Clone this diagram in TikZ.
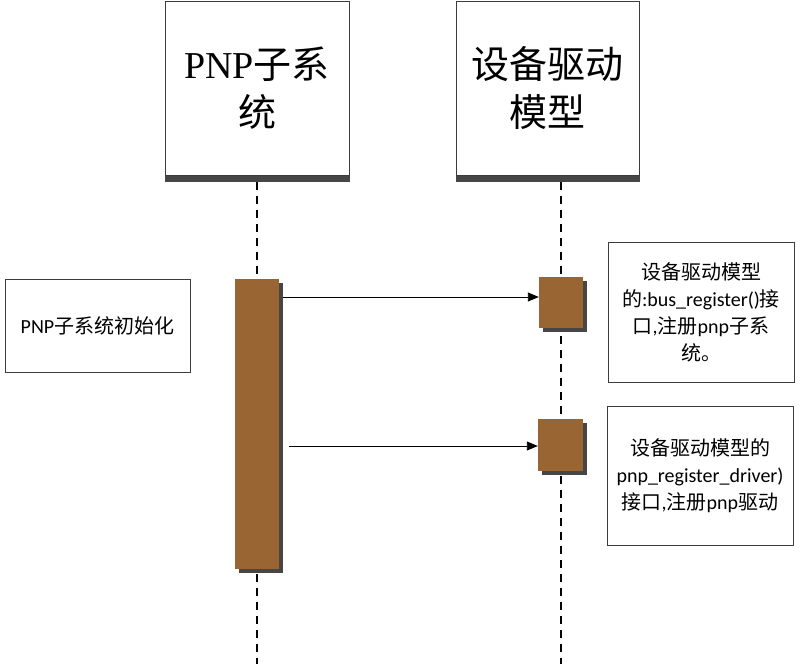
\documentclass[tikz,border=0pt]{standalone}
\usepackage{fontspec}
\setmainfont{Carlito}
\newfontfamily\cjk{Noto Sans CJK SC}
\newfontfamily\serifl{Liberation Serif}
\usetikzlibrary{arrows.meta,shadows}
\definecolor{actbrown}{RGB}{153,102,51}
\definecolor{shadowgray}{RGB}{70,70,70}
\definecolor{edgegray}{RGB}{60,60,60}
\begin{document}
\begin{tikzpicture}[x=1pt,y=-1pt,
  head/.style={draw=edgegray,line width=1pt,fill=white,minimum width=184pt,minimum height=174pt,inner sep=0pt,align=center,font=\fontsize{38}{48}\selectfont},
  headshadow/.style={fill=shadowgray},
  life/.style={draw=black,line width=1.2pt,dash pattern=on 8pt off 6pt},
  act/.style={fill=actbrown,draw=none,inner sep=0pt,drop shadow={shadow xshift=4pt,shadow yshift=-4pt,fill=shadowgray,opacity=1}},
  note/.style={draw=edgegray,line width=0.9pt,fill=white,inner sep=0pt,align=center,font=\fontsize{20}{27}\selectfont},
  msg/.style={draw=black,line width=0.9pt,-{Triangle[length=11pt,width=9pt]}}
]
\useasboundingbox[fill=white] (0,0) rectangle (801,664);

% headers
\node[head] (h1) at (257,88) {{\serifl PNP}{\cjk 子系}\\{\cjk 统}};
\node[head,minimum width=183pt] (h2) at (547.5,88) {{\cjk 设备驱动}\\{\cjk 模型}};
\fill[headshadow] (h1.south west) rectangle ([yshift=-6.5pt]h1.south east);
\fill[headshadow] (h2.south west) rectangle ([yshift=-6.5pt]h2.south east);

% lifelines
\coordinate (l1top) at (257,182);
\coordinate (l1bot) at (257,664);
\coordinate (l2top) at (561,182);
\coordinate (l2bot) at (561,664);
\draw[life] (l1top) -- (l1bot);
\draw[life] (l2top) -- (l2bot);

% activations
\node[act,minimum width=44pt,minimum height=290pt] (a1) at (257,424) {};
\node[act,minimum width=44pt,minimum height=51pt] (a2) at (561,302.5) {};
\node[act,minimum width=45pt,minimum height=52pt] (a3) at (560.5,445) {};

% messages
\coordinate (m1s) at (283,297);
\coordinate (m2s) at (289,446);
\draw[msg] (m1s) -- (a2.west |- m1s);
\draw[msg] (m2s) -- (a3.west |- m2s);

% notes
\node[note,minimum width=185pt,minimum height=93pt] (n0) at (97.5,325.5)
  {{\cjk }PNP{\cjk 子系统初始化}};
\node[note,minimum width=186pt,minimum height=140pt] (n1) at (701,312)
  {{\cjk 设备驱动模型}\\{\cjk 的}:bus\_register(){\cjk 接}\\{\cjk 口},{\cjk 注册}pnp{\cjk 子系}\\{\cjk 统。}};
\node[note,minimum width=186pt,minimum height=139pt] (n2) at (700,475.5)
  {{\cjk 设备驱动模型的}\\pnp\_register\_driver)\\{\cjk 接口},{\cjk 注册}pnp{\cjk 驱动}};
\end{tikzpicture}
\end{document}
